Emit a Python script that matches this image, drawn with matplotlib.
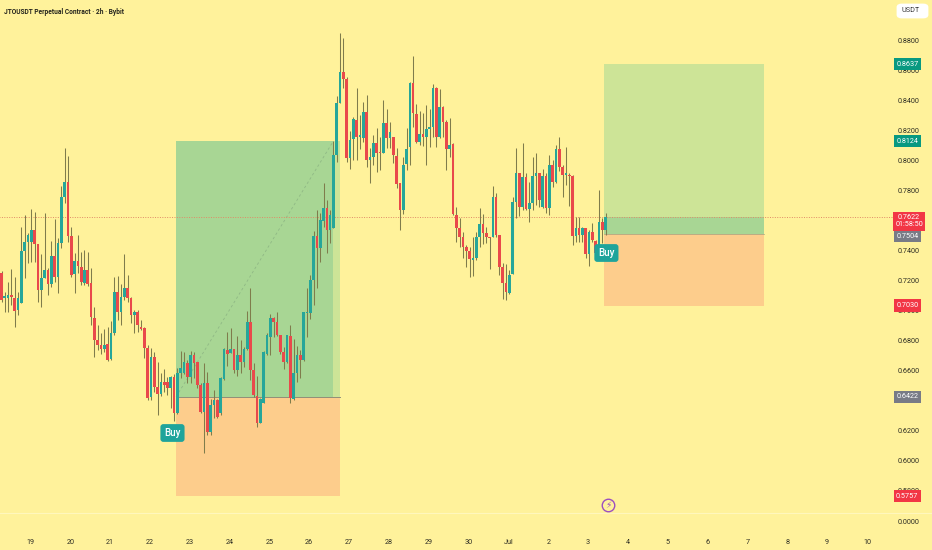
"""JTOUSDT 2h candlestick chart with two long-position boxes."""

import matplotlib
matplotlib.use("Agg")
import matplotlib.pyplot as plt
from matplotlib.patches import FancyBboxPatch
import numpy as np

plt.rcParams["font.family"] = ["Roboto", "DejaVu Sans"]

opens = [
    7247, 7080, 7080, 7100, 7080, 7000, 7047, 7394, 7454, 7454, 7534, 7440, 7134, 7214, 7267, 7174,
    7360, 7220, 7447, 7754, 7854, 7494, 7240, 7327, 7287, 7180, 7267, 7180, 6947, 6800, 6767, 6740,
    6774, 6674, 6847, 7120, 6987, 7087, 7147, 7080, 6967, 6987, 6887, 6880, 6747, 6420, 6687, 6487,
    6440, 6520, 6520, 6480, 6554, 6314, 6580, 6580, 6647, 6554, 6700, 6654, 6500, 6320, 6514, 6187,
    6367, 6400, 6314, 6540, 6734, 6714, 6740, 6600, 6700, 6654, 6740, 6920, 6600, 6427, 6247, 6380,
    6707, 6820, 6947, 6920, 6834, 6720, 6654, 6827, 6407, 6580, 6700, 6667, 6980, 6980, 7200, 7494,
    7414, 7594, 7680, 7534, 7547, 8034, 8380, 8587, 8540, 8014, 8140, 8267, 8154, 8147, 8320, 8000,
    8020, 8114, 8054, 8047, 8247, 8147, 8154, 8027, 7847, 7667, 7974, 8087, 8514, 8307, 8120, 8174,
    8154, 8207, 8220, 8480, 8154, 8354, 8254, 8074, 8107, 7634, 7547, 7487, 7420, 7394, 7334, 7347,
    7487, 7574, 7514, 7487, 7487, 7754, 7500, 7287, 7180, 7114, 7240, 7720, 7914, 7687, 7887, 7674,
    7714, 7894, 7914, 7687, 7894, 7680, 7967, 7854, 8074, 7954, 7900, 7900, 7894, 7494, 7547, 7500,
    7547, 7374, 7520, 7460, 7380, 7587, 7534,
]
highs = [
    7260, 7120, 7187, 7274, 7220, 7120, 7554, 7634, 7514, 7674, 7654, 7440, 7374, 7647, 7280, 7460,
    7607, 7480, 7827, 8080, 8027, 7554, 7380, 7500, 7387, 7400, 7387, 7280, 7020, 6900, 6847, 6874,
    6887, 6927, 7220, 7227, 7174, 7374, 7234, 7087, 7000, 7000, 6934, 6887, 6767, 6747, 6720, 6654,
    6580, 6607, 6554, 6560, 6574, 6614, 6727, 6720, 6667, 6727, 6720, 6654, 6514, 6647, 6587, 6407,
    6467, 6407, 6554, 6747, 6854, 6880, 6740, 6827, 6800, 6754, 6994, 7147, 6647, 6560, 6414, 6727,
    6847, 6974, 6954, 6987, 6834, 6754, 6834, 6900, 6807, 6760, 6734, 6987, 7147, 7234, 7527, 7667,
    7647, 7847, 7734, 7667, 8127, 8427, 8847, 8814, 8554, 8194, 8287, 8480, 8300, 8387, 8434, 8080,
    8167, 8214, 8154, 8400, 8340, 8254, 8154, 8080, 7847, 8020, 8214, 8520, 8694, 8374, 8327, 8314,
    8367, 8340, 8507, 8487, 8474, 8360, 8267, 8280, 8114, 7687, 7614, 7520, 7434, 7420, 7487, 7520,
    7680, 7640, 7554, 7487, 7827, 7780, 7500, 7314, 7307, 7267, 7754, 8080, 7914, 8114, 7914, 7854,
    8020, 8047, 7914, 7940, 7914, 8034, 8000, 8100, 8154, 7967, 8087, 7914, 7900, 7620, 7620, 7554,
    7547, 7534, 7580, 7467, 7800, 7614, 7647,
]
lows = [
    7054, 6987, 6987, 7034, 6887, 6967, 7047, 7214, 7314, 7320, 7320, 7054, 7020, 7214, 7100, 7154,
    7187, 7114, 7414, 7714, 7454, 7220, 7114, 7247, 7167, 7167, 7160, 6900, 6687, 6734, 6707, 6720,
    6660, 6667, 6834, 6934, 6900, 7067, 7054, 6914, 6847, 6854, 6867, 6680, 6400, 6400, 6454, 6300,
    6427, 6454, 6434, 6347, 6260, 6307, 6547, 6574, 6514, 6514, 6547, 6480, 6314, 6047, 6167, 6167,
    6280, 6280, 6300, 6534, 6627, 6714, 6580, 6560, 6580, 6620, 6734, 6534, 6420, 6220, 6247, 6380,
    6700, 6700, 6820, 6827, 6707, 6607, 6647, 6380, 6400, 6520, 6547, 6660, 6820, 6940, 7034, 7147,
    7320, 7554, 7380, 7447, 7547, 7987, 8380, 8480, 7987, 7940, 8000, 8000, 8074, 8120, 7954, 7847,
    7967, 7920, 7934, 8047, 8080, 8080, 7980, 7814, 7534, 7640, 7934, 7967, 8220, 8114, 8100, 8094,
    7967, 8087, 8154, 8087, 8147, 8154, 7934, 8020, 7634, 7454, 7420, 7347, 7287, 7220, 7227, 7334,
    7420, 7440, 7447, 7274, 7487, 7487, 7234, 7074, 7067, 7107, 7240, 7614, 7627, 7667, 7667, 7587,
    7667, 7700, 7687, 7680, 7647, 7634, 7820, 7847, 7927, 7754, 7834, 7694, 7434, 7454, 7454, 7454,
    7347, 7294, 7454, 7347, 7380, 7447, 7500,
]
closes = [
    7067, 7094, 7100, 7087, 6994, 7080, 7394, 7454, 7500, 7534, 7440, 7134, 7214, 7267, 7174, 7360,
    7220, 7447, 7754, 7854, 7494, 7234, 7327, 7294, 7187, 7267, 7174, 6954, 6800, 6767, 6740, 6767,
    6667, 6847, 7120, 6987, 7087, 7147, 7080, 6967, 6987, 6900, 6874, 6747, 6414, 6687, 6487, 6440,
    6520, 6500, 6480, 6554, 6314, 6580, 6614, 6654, 6554, 6700, 6647, 6500, 6320, 6514, 6187, 6367,
    6400, 6287, 6547, 6740, 6707, 6740, 6600, 6700, 6654, 6740, 6920, 6600, 6434, 6247, 6407, 6720,
    6834, 6947, 6920, 6834, 6720, 6654, 6834, 6414, 6580, 6700, 6667, 6987, 6987, 7200, 7494, 7414,
    7600, 7680, 7534, 7634, 8034, 8380, 8587, 8540, 8014, 8134, 8274, 8154, 8167, 8320, 8000, 8020,
    8114, 8047, 8047, 8247, 8147, 8187, 8034, 7840, 7667, 7967, 8074, 8514, 8314, 8120, 8174, 8154,
    8207, 8220, 8480, 8154, 8354, 8254, 8074, 8100, 7640, 7547, 7487, 7420, 7394, 7340, 7347, 7487,
    7574, 7514, 7487, 7480, 7754, 7500, 7287, 7180, 7120, 7234, 7720, 7914, 7687, 7887, 7674, 7714,
    7894, 7914, 7734, 7894, 7680, 7967, 7854, 8074, 7954, 7900, 7914, 7894, 7494, 7547, 7500, 7547,
    7374, 7520, 7467, 7380, 7587, 7534, 7620,
]

day_labels = ["19", "20", "21", "22", "23", "24", "25", "26", "27", "28", "29", "30", "Jul",
              "2", "3", "4", "5", "6", "7", "8", "9", "10"]
first_day_bar = 8.7
bars_per_day = 12

# 0.76 and 0.64 sit fully behind price tags, so they are left out
price_ticks = [0.58, 0.60, 0.62, 0.66, 0.68, 0.70, 0.72, 0.74, 0.78, 0.80, 0.82, 0.84, 0.86, 0.88]
pane_zero = 0.5587   # the volume pane's own 0.0000 label

# long positions: bar span, stop, entry, target
pos1_bars = (52.6, 102.0)
pos1_filled_to = 99.9
pos1_prices = (0.5757, 0.6422, 0.8124)
pos2_bars = (181.5, 229.7)
pos2_prices = (0.7030, 0.7504, 0.8637)
last_price = 0.7622
pane_line = 0.5647

BG = "#fff29b"
TEAL = "#26a69a"
RED = "#e9494b"
WICK = "#7f7c4c"
GREEN_DARK = "#a8d694"
GREEN_LIGHT = "#cde497"
ORANGE = "#fdcd8c"
TICK_SIZE = 5.2
W, H = 932, 550


def draw_position(ax, bars, prices):
    x0, x1 = bars
    stop, entry, target = prices
    ax.fill_between([x0, x1], entry, target, color=GREEN_LIGHT, lw=0, zorder=1)
    ax.fill_between([x0, x1], stop, entry, color=ORANGE, lw=0, zorder=1)


def price_tag(ax, price, text, color, xfrac=0.9735):
    ax.text(xfrac, price, text, transform=ax.get_yaxis_transform(), ha="center", va="center",
            color="white", fontsize=TICK_SIZE, zorder=8,
            bbox=dict(boxstyle="square,pad=0.35", fc=color, ec="none"))


fig = plt.figure(figsize=(W / 100, H / 100), dpi=100, facecolor=BG)
ax = fig.add_axes([0, 0, 1, 1], facecolor=BG)

o, h, l, c = [np.array(a) / 10000 for a in (opens, highs, lows, closes)]
idx = np.arange(len(o))
up = c >= o

draw_position(ax, pos1_bars, pos1_prices)
draw_position(ax, pos2_bars, pos2_prices)

# filled part of the first trade and the price-over-entry slice of the second
ax.fill_between([pos1_bars[0], pos1_filled_to], pos1_prices[1], pos1_prices[2], color=GREEN_DARK, lw=0, zorder=1.1)
ax.fill_between(pos2_bars, pos2_prices[1], last_price, color=GREEN_DARK, lw=0, zorder=1.1)
ax.plot([pos1_bars[0], pos1_filled_to], [pos1_prices[1], pos1_prices[2]], color="#8fb885", lw=0.6,
        ls=(0, (3, 3)), zorder=1.2)
ax.plot(pos1_bars, [pos1_prices[1]] * 2, color="#8f8f78", lw=0.7, zorder=1.2)
ax.plot(pos2_bars, [pos2_prices[1]] * 2, color="#a0a080", lw=0.5, zorder=1.2)

ax.axhline(pane_line, color="#fff7bd", lw=0.8, zorder=0.5)
ax.plot([-1, 268.5], [last_price] * 2, color="#e08a66", lw=0.7, ls=(0, (1, 1.5)), zorder=1.3)

ax.vlines(idx, l, h, color=WICK, lw=0.75, zorder=2)
ax.bar(idx[up], (c - o)[up], bottom=o[up], width=0.8, color=TEAL, lw=0, zorder=3)
ax.bar(idx[~up], (o - c)[~up], bottom=c[~up], width=0.8, color=RED, lw=0, zorder=3)

ax.set_xlim(-0.452, 280.28)
ax.set_ylim(0.54, 0.90667)
for side in ax.spines.values():
    side.set_visible(False)

ax.set_xticks(first_day_bar + bars_per_day * np.arange(len(day_labels)), day_labels)
ax.set_yticks(price_ticks + [pane_zero], [f"{p:.4f}" for p in price_ticks] + ["0.0000"])
ax.yaxis.tick_right()
ax.tick_params(axis="x", length=0, pad=-8, labelsize=TICK_SIZE, labelcolor="#2e2e24")
ax.tick_params(axis="y", length=0, pad=-24.5, labelsize=TICK_SIZE, labelcolor="#2e2e24")

ax.text(0.0045, 0.979, "JTOUSDT Perpetual Contract · 2h · Bybit", transform=ax.transAxes, ha="left", va="center",
        fontsize=4.8, fontweight="bold", color="#26261e")

ax.add_patch(FancyBboxPatch((898 / W, 1 - 17 / H), 29 / W, 12 / H, transform=ax.transAxes,
                            boxstyle="round,pad=0,rounding_size=0.004", fc="white", ec="white", lw=2, zorder=8))
ax.text(901 / W, 1 - 11 / H, "USDT", transform=ax.transAxes, ha="left", va="center", fontsize=TICK_SIZE,
        color="#3a3a3a", zorder=9)

price_tag(ax, pos2_prices[2], "0.8637", "#089981")
price_tag(ax, pos1_prices[2], "0.8124", "#089981")
# the gray entry tag is pushed just under the two-line countdown tag, as the app stacks them
price_tag(ax, pos2_prices[1] - 0.0012, "0.7504", "#787b86")
ax.text(0.9755, last_price - 0.0030, "0.7622\n01:58:50", transform=ax.get_yaxis_transform(), ha="center", va="center",
        color="white", fontsize=TICK_SIZE, zorder=9, linespacing=1.1,
        bbox=dict(boxstyle="square,pad=0.3", fc="#f23645", ec="none"))
price_tag(ax, pos2_prices[0], "0.7030", "#f23645")
price_tag(ax, pos1_prices[1], "0.6422", "#787b86")
price_tag(ax, pos1_prices[0], "0.5757", "#f23645")

for bar, price in [(51.5, 0.618), (182.2, 0.738)]:
    ax.text(bar, price, "Buy", ha="center", va="center", color="white", fontsize=7, fontweight="medium", zorder=7,
            bbox=dict(boxstyle="round,pad=0.4,rounding_size=0.3", fc="#1fa49b", ec="none"))

ax.plot([182.7], [0.57], marker="o", ms=9, mfc=BG, mec="#9c4fc0", mew=1, zorder=6)
ax.text(182.7, 0.57, "\u26a1", ha="center", va="center", fontsize=6.5, color="#9c4fc0", family="DejaVu Sans", zorder=7)

fig.savefig("out.png", dpi=100, facecolor=BG)
plt.close(fig)
